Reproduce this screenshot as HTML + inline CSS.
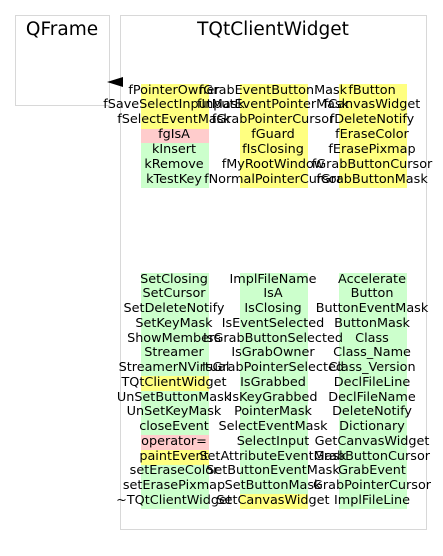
<!DOCTYPE html>
<html><head><meta charset="utf-8"><style>
body{margin:0;width:443px;height:556px;background:#fff;position:relative;overflow:hidden;font-family:"DejaVu Sans","Liberation Sans",sans-serif;}
.box{position:absolute;border:1px solid #d8d8d8;background:#fff;}
.t{position:absolute;font-size:18.5px;color:#000;white-space:nowrap;transform:translateX(-50%);}
.c{position:absolute;width:68px;height:14.8px;}
.l{position:absolute;font-size:12.8px;line-height:14.8px;white-space:nowrap;transform:translateX(-50%);color:#000;}
.y{background:#ffff80}.g{background:#ccffcc}.p{background:#ffcccc}
</style></head><body>
<div class="box" style="left:15px;top:15px;width:93px;height:89px;"></div>
<div class="box" style="left:120px;top:15px;width:305px;height:513px;"></div>
<div class="t" style="left:62px;top:19px;">QFrame</div>
<div class="t" style="left:273px;top:19px;">TQtClientWidget</div>
<svg style="position:absolute;left:0;top:0" width="443" height="556"><polygon points="107,82 123,77 123,87" fill="#000"/></svg>
<div id="cc"></div>
<script>
var topD=[
[["fPointerOwner","y"],["fSaveSelectInputMask","y"],["fSelectEventMask","y"],["fgIsA","p"],["kInsert","g"],["kRemove","g"],["kTestKey","g"]],
[["fGrabEventButtonMask","y"],["fInputEventPointerMask","y"],["fGrabPointerCursor","y"],["fGuard","y"],["fIsClosing","y"],["fMyRootWindow","y"],["fNormalPointerCursor","y"]],
[["fButton","y"],["fCanvasWidget","y"],["fDeleteNotify","y"],["fEraseColor","y"],["fErasePixmap","y"],["fGrabButtonCursor","y"],["fGrabButtonMask","y"]]];
var botD=[
[["SetClosing","g"],["SetCursor","g"],["SetDeleteNotify","g"],["SetKeyMask","g"],["ShowMembers","g"],["Streamer","g"],["StreamerNVirtual","g"],["TQtClientWidget","y"],["UnSetButtonMask","g"],["UnSetKeyMask","g"],["closeEvent","g"],["operator=","p"],["paintEvent","y"],["setEraseColor","g"],["setErasePixmap","g"],["~TQtClientWidget","g"]],
[["ImplFileName","g"],["IsA","g"],["IsClosing","g"],["IsEventSelected","g"],["IsGrabButtonSelected","g"],["IsGrabOwner","g"],["IsGrabPointerSelected","g"],["IsGrabbed","g"],["IsKeyGrabbed","g"],["PointerMask","g"],["SelectEventMask","g"],["SelectInput","g"],["SetAttributeEventMask","g"],["SetButtonEventMask","g"],["SetButtonMask","g"],["SetCanvasWidget","y"]],
[["Accelerate","g"],["Button","g"],["ButtonEventMask","g"],["ButtonMask","g"],["Class","g"],["Class_Name","g"],["Class_Version","g"],["DeclFileLine","g"],["DeclFileName","g"],["DeleteNotify","g"],["Dictionary","g"],["GetCanvasWidget","g"],["GrabButtonCursor","g"],["GrabEvent","g"],["GrabPointerCursor","g"],["ImplFileLine","g"]]];
var cx=[174,273,372],h="";
function put(arr,y0,lh){arr.forEach(function(col,i){col.forEach(function(r,j){var y=y0+j*lh;
h+='<div class="c '+r[1]+'" style="left:'+(cx[i]-33.5)+'px;top:'+y+'px;height:'+lh+'px"></div>';});});
arr.forEach(function(col,i){col.forEach(function(r,j){var y=y0+j*lh;
h+='<div class="l" style="left:'+cx[i]+'px;top:'+(y-0.5)+'px;line-height:'+lh+'px">'+r[0]+'</div>';});});}
put(topD,84,14.85);put(botD,273,14.75);
document.getElementById('cc').innerHTML=h;
</script>
</body></html>
